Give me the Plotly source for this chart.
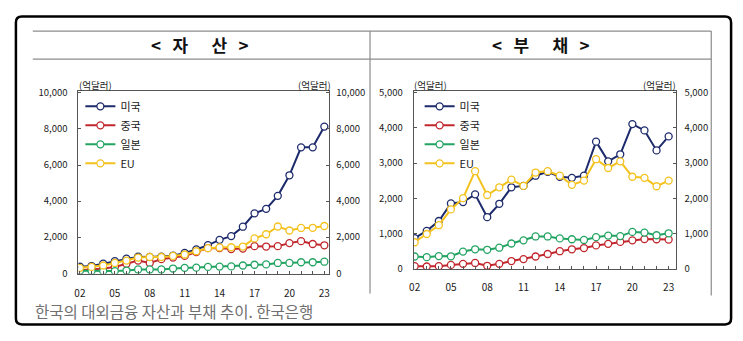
import plotly.graph_objects as go

W, H = 743, 341

years = list(range(2002, 2024))
tick_years = [2002, 2005, 2008, 2011, 2014, 2017, 2020, 2023]
tick_text = ["02", "05", "08", "11", "14", "17", "20", "23"]

series_names = ["미국", "중국", "일본", "EU"]
series_colors = ["#1d2a6b", "#c1272d", "#23a463", "#f4c21e"]

# 대외금융 자산 (억달러)
assets_us = [360, 400, 530, 670, 810, 920, 900, 920, 970, 1130, 1320, 1560, 1850, 2060, 2580,
             3320, 3570, 4290, 5430, 6980, 6980, 8130]
assets_cn = [170, 200, 260, 350, 520, 700, 570, 780, 870, 960, 1170, 1390, 1400, 1340, 1370,
             1500, 1480, 1500, 1670, 1780, 1620, 1550]
assets_jp = [140, 120, 120, 120, 150, 210, 210, 210, 260, 300, 310, 350, 370, 380, 430,
             470, 490, 570, 570, 610, 610, 640]
assets_eu = [300, 350, 430, 570, 700, 870, 900, 900, 960, 1040, 1220, 1390, 1430, 1440, 1480,
             1930, 2160, 2590, 2370, 2510, 2520, 2620]

# 대외금융 부채 (억달러)
liab_us = [860, 1070, 1350, 1850, 1890, 2110, 1460, 1840, 2310, 2350, 2640, 2750, 2610, 2580, 2640,
           3610, 3050, 3250, 4110, 3930, 3360, 3760]
liab_cn = [65, 55, 65, 100, 130, 155, 75, 130, 210, 265, 340, 410, 490, 545, 580,
           655, 700, 755, 800, 835, 830, 820]
liab_jp = [340, 320, 350, 345, 480, 545, 530, 590, 710, 800, 910, 910, 855, 830, 810,
           890, 935, 920, 1040, 1020, 945, 1000]
liab_eu = [745, 980, 1230, 1680, 2000, 2770, 2090, 2310, 2530, 2350, 2730, 2770, 2640, 2380, 2500,
           3110, 2860, 3050, 2610, 2580, 2340, 2500]

asset_ticks = [0, 2000, 4000, 6000, 8000, 10000]
liab_ticks = [0, 1000, 2000, 3000, 4000, 5000]

FONT = "Noto Sans CJK KR"
AXIS_COLOR = "#555555"
TEXT_COLOR = "#1a1a1a"


def px(x):
    return x / W


def py(y):
    return 1 - y / H


def fmt(v):
    return f"{v:,}"


fig = go.Figure()

panels = [
    ("x", "y", "legend", [assets_us, assets_cn, assets_jp, assets_eu]),
    ("x2", "y2", "legend2", [liab_us, liab_cn, liab_jp, liab_eu]),
]
for xa, ya, lg, data in panels:
    for name, color, vals in zip(series_names, series_colors, data):
        fig.add_trace(go.Scatter(
            x=years, y=vals, name=name, mode="lines+markers",
            xaxis=xa, yaxis=ya, legend=lg,
            line=dict(color=color, width=2),
            marker=dict(size=7, color="white", line=dict(color=color, width=1.3)),
            hoverinfo="skip",
        ))


def xaxis_cfg(domain, rng, anchor, standoff):
    return dict(
        domain=domain, range=rng, anchor=anchor,
        tickmode="array", tickvals=tick_years, ticktext=tick_text,
        ticks="inside", ticklen=3, tickcolor=AXIS_COLOR,
        minor=dict(dtick=1, tick0=2002, ticks="inside", ticklen=3, tickcolor=AXIS_COLOR),
        showline=True, linecolor=AXIS_COLOR, linewidth=1, mirror=True,
        showgrid=False, zeroline=False,
        tickfont=dict(family=FONT, size=10, color=TEXT_COLOR),
        ticklabelstandoff=standoff,
    )


def yaxis_cfg(domain, rng, ticks, anchor, side="left", overlay=None, standoff=8):
    cfg = dict(
        domain=domain, range=rng, anchor=anchor, side=side,
        tickmode="array", tickvals=ticks, ticktext=[fmt(t) for t in ticks],
        ticks="inside", ticklen=3, tickcolor=AXIS_COLOR,
        showline=True, linecolor=AXIS_COLOR, linewidth=1,
        showgrid=False, zeroline=False,
        tickfont=dict(family=FONT, size=9.5, color=TEXT_COLOR),
        ticklabelstandoff=standoff,
    )
    if overlay:
        cfg["overlaying"] = overlay
    return cfg


left_ydom = [py(277.5), py(88)]
right_ydom = [py(272.5), py(88)]

legend_style = dict(xanchor="left", yanchor="top", bgcolor="rgba(0,0,0,0)",
                    font=dict(family=FONT, size=11, color=TEXT_COLOR), tracegroupgap=0)

fig.update_layout(
    width=W, height=H,
    margin=dict(l=0, r=0, t=0, b=0),
    paper_bgcolor="white", plot_bgcolor="white",
    showlegend=True,
    xaxis=xaxis_cfg([px(74), px(327)], [2001.87, 2023.43], "y", 10),
    yaxis=yaxis_cfg(left_ydom, [-27, 10107], asset_ticks, "x"),
    yaxis3=yaxis_cfg(left_ydom, [-27, 10107], asset_ticks, "x", side="right", overlay="y",
                     standoff=4),
    xaxis2=xaxis_cfg([px(412), px(676)], [2001.92, 2023.57], "y2", 9),
    yaxis2=yaxis_cfg(right_ydom, [-14, 5055], liab_ticks, "x2"),
    yaxis4=yaxis_cfg(right_ydom, [-14, 5055], liab_ticks, "x2", side="right", overlay="y2",
                     standoff=6),
    legend=dict(x=px(76), y=py(89), **legend_style),
    legend2=dict(x=px(418), y=py(89), **legend_style),
)

# invisible helpers so the right-hand mirrored axes are drawn
for ya, xa, top in [("y3", "x", 10000), ("y4", "x2", 5000)]:
    fig.add_trace(go.Scatter(x=[years[0]], y=[top], xaxis=xa, yaxis=ya, mode="markers",
                             marker=dict(opacity=0), showlegend=False, hoverinfo="skip"))

# frame and table rules
r = 6
x0, y0, x1, y1 = 11, 11, 732, 330
path = (f"M {px(x0 + r)} {py(y0)} L {px(x1 - r)} {py(y0)} Q {px(x1)} {py(y0)} {px(x1)} {py(y0 + r)} "
        f"L {px(x1)} {py(y1 - r)} Q {px(x1)} {py(y1)} {px(x1 - r)} {py(y1)} "
        f"L {px(x0 + r)} {py(y1)} Q {px(x0)} {py(y1)} {px(x0)} {py(y1 - r)} "
        f"L {px(x0)} {py(y0 + r)} Q {px(x0)} {py(y0)} {px(x0 + r)} {py(y0)} Z")
fig.add_shape(type="path", path=path, xref="paper", yref="paper",
              line=dict(color="black", width=2.5))

rule = dict(color="#8c8c8c", width=1.2)
for yy in (26, 55):
    fig.add_shape(type="line", xref="paper", yref="paper",
                  x0=px(28), x1=px(712), y0=py(yy), y1=py(yy), line=rule)
fig.add_shape(type="line", xref="paper", yref="paper",
              x0=px(368), x1=px(368), y0=py(26), y1=py(298), line=rule)
fig.add_shape(type="line", xref="paper", yref="paper",
              x0=px(712), x1=px(712), y0=py(26), y1=py(300), line=rule)

# panel titles
sp = "&nbsp;"
for cx, (a, b) in [(197, ("자", "산")), (540, ("부", "채"))]:
    txt = f"&lt;{sp * 3}{a}{sp * 6}{b}{sp * 3}&gt;"
    fig.add_annotation(x=px(cx), y=py(40), xref="paper", yref="paper",
                       xanchor="center", yanchor="middle",
                       text=f"<b>{txt}</b>", showarrow=False,
                       font=dict(family=FONT, size=17, color="#111111"))

# unit labels
for cx in (91, 312, 429, 660):
    fig.add_annotation(x=px(cx), y=py(82), xref="paper", yref="paper",
                       xanchor="center", yanchor="middle",
                       text="(억달러)", showarrow=False,
                       font=dict(family=FONT, size=9.5, color=TEXT_COLOR))

# caption
fig.add_annotation(x=px(28), y=py(316), xref="paper", yref="paper", xanchor="left",
                   yanchor="middle", text="한국의 대외금융 자산과 부채 추이. 한국은행",
                   showarrow=False, font=dict(family=FONT, size=15.5, color="#707070"))

fig.write_html("out.html")
